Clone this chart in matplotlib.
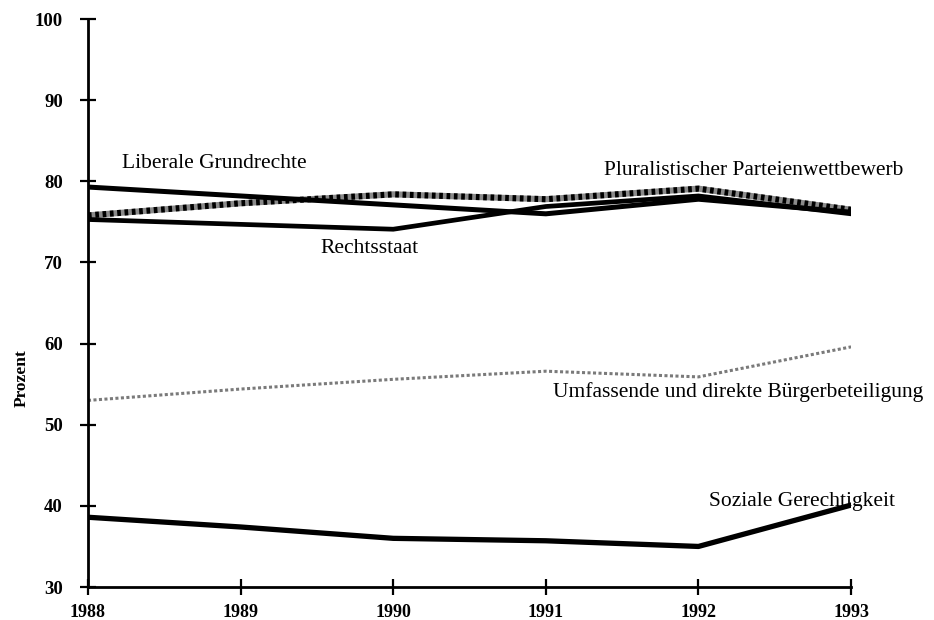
import matplotlib
matplotlib.use("Agg")
import matplotlib.pyplot as plt

years = [1988, 1989, 1990, 1991, 1992, 1993]
liberale = [79.3, 78.2, 77.1, 76.0, 77.8, 76.2]
rechtsstaat = [75.3, 74.7, 74.1, 76.9, 78.2, 76.0]
pluralistisch = [75.8, 77.3, 78.4, 77.8, 79.1, 76.5]
buerger = [53.0, 54.4, 55.6, 56.6, 55.9, 59.6]
sozial = [38.6, 37.4, 36.0, 35.7, 35.0, 40.1]

labels = ["Liberale Grundrechte", "Rechtsstaat", "Pluralistischer Parteienwettbewerb",
          "Umfassende und direkte Bürgerbeteiligung", "Soziale Gerechtigkeit"]
label_pos = [(1988.22, 82.2), (1989.52, 71.7), (1991.38, 81.4), (1991.05, 54.0), (1992.07, 40.6)]

yticks = [30, 40, 50, 60, 70, 80, 90, 100]

plt.rcParams['font.family'] = ['Liberation Serif', 'DejaVu Serif']

fig = plt.figure(figsize=(9.34, 6.2), dpi=100)
ax = fig.add_axes([0.0942, 0.0532, 0.8170, 0.9160])

# Bürgerbeteiligung: light dotted line
ax.plot(years, buerger, color='#7a7a7a', lw=2.2, dashes=(1, 0.8), solid_capstyle='butt')
# Pluralistischer: textured dark line
ax.plot(years, pluralistisch, color='#8a8a8a', lw=4.4)
ax.plot(years, pluralistisch, color='black', lw=4.4, dashes=(0.6, 0.6))
# Black thick lines
ax.plot(years, liberale, color='black', lw=3.6)
ax.plot(years, rechtsstaat, color='black', lw=3.4)
ax.plot(years, sozial, color='black', lw=3.8)

for txt, (x, y) in zip(labels, label_pos):
    ax.text(x, y, txt, fontsize=15.5, ha='left', va='center', color='black')

ax.set_xlim(1988, 1993)
ax.set_ylim(30, 100)
ax.set_xticks(years)
ax.set_yticks(yticks)
ax.set_xticklabels([str(y) for y in years], fontsize=13, fontweight='bold')
ax.set_yticklabels([str(y) for y in yticks], fontsize=13.5, fontweight='bold')
ax.tick_params(direction='inout', length=12, width=1.6)
ax.tick_params(axis='y', pad=12)
ax.tick_params(axis='x', pad=6)
for s in ['top', 'right']:
    ax.spines[s].set_visible(False)
for s in ['left', 'bottom']:
    ax.spines[s].set_linewidth(2)
ax.set_ylabel("Prozent", fontsize=12.5, fontweight='bold')
ax.yaxis.set_label_coords(-0.076, 0.368)

fig.savefig("out.png", dpi=100)
